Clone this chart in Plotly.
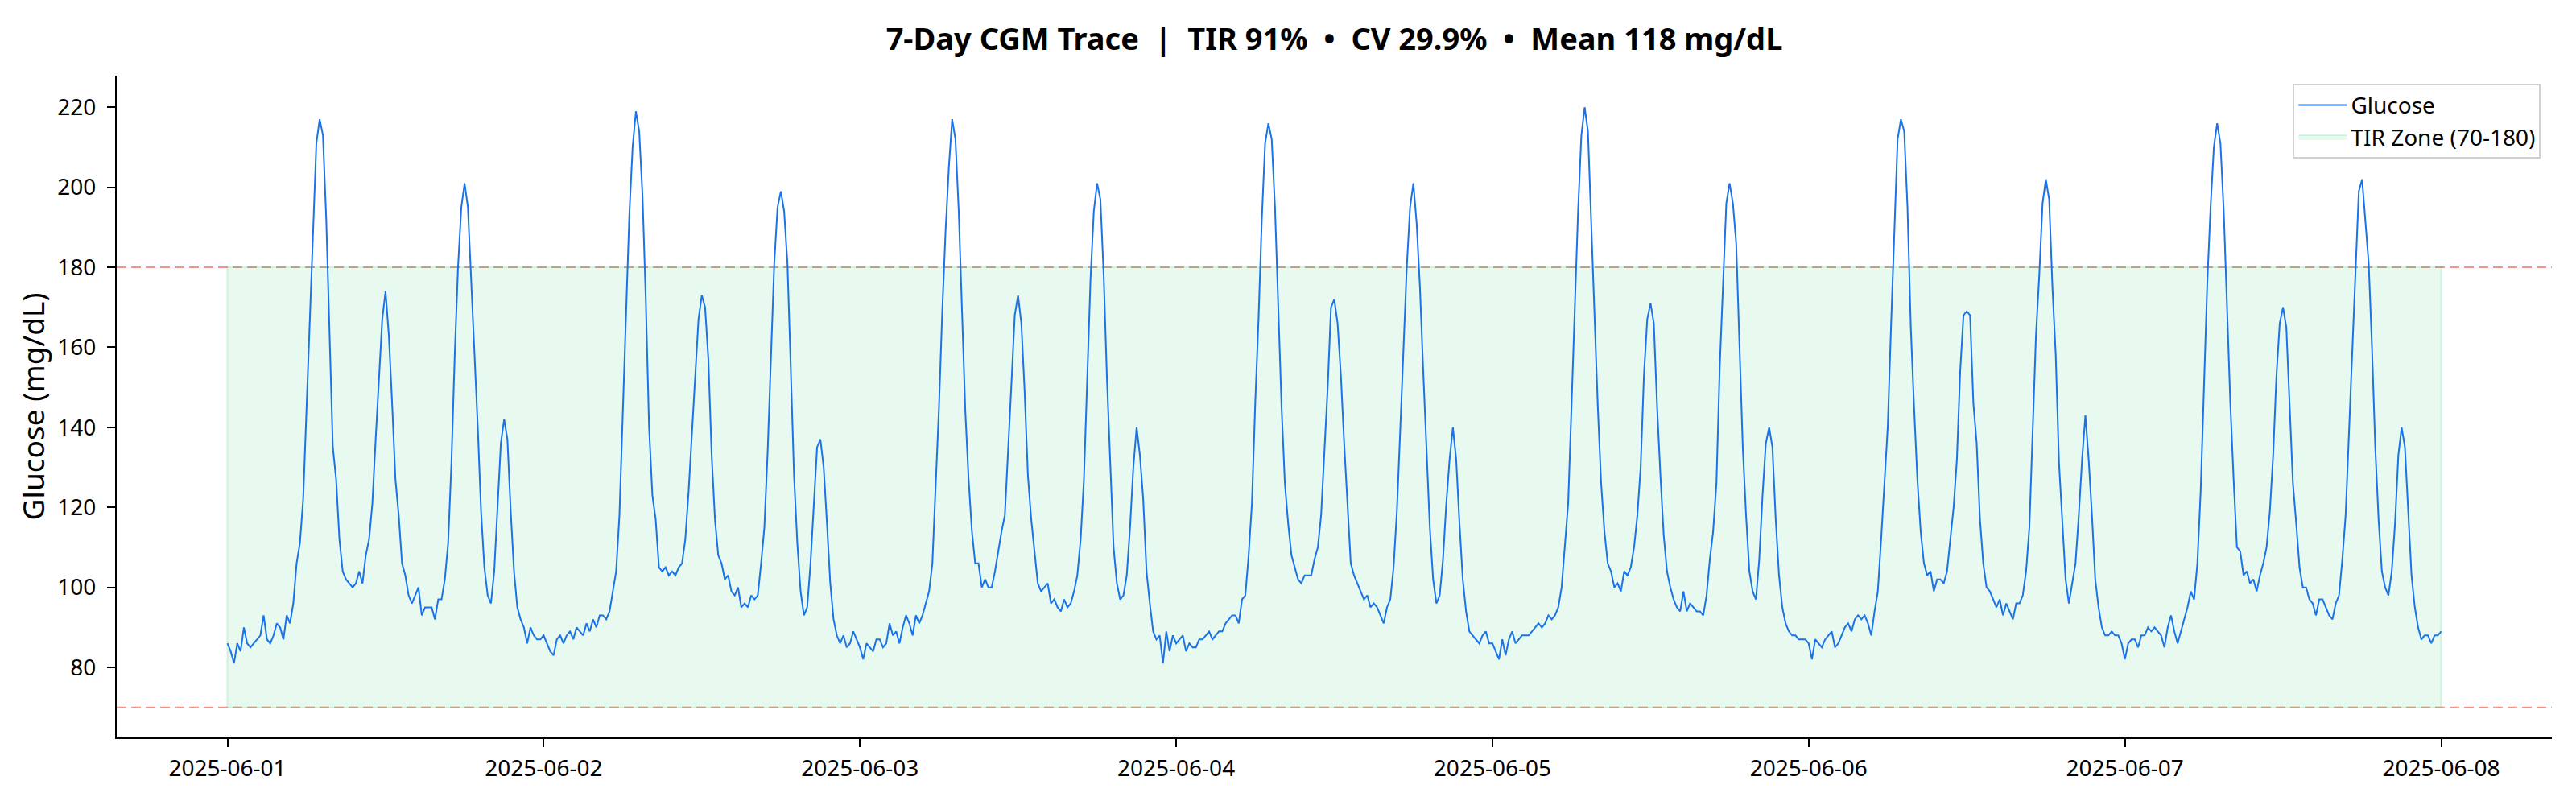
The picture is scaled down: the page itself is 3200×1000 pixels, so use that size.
import pandas as pd
import plotly.graph_objects as go

# ---------------- data (15-minute steps) ----------------
START = "2025-06-01 00:00"
ZONE_START = "2025-06-01"
ZONE_END = "2025-06-08"
TIR_LOW = 70
TIR_HIGH = 180

day1 = [86, 84, 81, 86, 84, 90, 86, 85, 86, 87, 88, 93, 87, 86, 88, 91, 90, 87, 93, 91, 96, 106, 111, 122,
        144, 167, 190, 211, 217, 213, 192, 165, 135, 127, 112, 104, 102, 101, 100, 101, 104, 101, 108, 112, 121, 137, 151, 167,
        174, 163, 146, 127, 118, 106, 103, 98, 96, 98, 100, 93, 95, 95, 95, 92, 97, 97, 102, 111, 131, 158, 180, 195,
        201, 195, 177, 157, 140, 119, 105, 98, 96, 104, 120, 136, 142, 137, 119, 104, 95, 92, 90, 86, 90, 88, 87, 87]
day2 = [88, 86, 84, 83, 87, 88, 86, 88, 89, 87, 90, 89, 88, 91, 89, 92, 90, 93, 93, 92, 94, 99, 104, 118,
        141, 168, 193, 210, 219, 214, 198, 172, 140, 123, 117, 105, 104, 105, 103, 104, 103, 105, 106, 112, 124, 139, 153, 167,
        173, 170, 157, 133, 117, 108, 106, 102, 103, 99, 98, 100, 95, 96, 95, 98, 97, 98, 106, 115, 134, 159, 181, 195,
        199, 194, 181, 155, 128, 111, 99, 93, 95, 106, 121, 135, 137, 130, 116, 101, 92, 88, 86, 88, 85, 86, 89, 87]
day3 = [85, 82, 86, 85, 84, 87, 87, 85, 86, 91, 88, 89, 86, 90, 93, 91, 88, 93, 91, 93, 96, 99, 106, 124,
        145, 169, 189, 205, 217, 212, 194, 169, 144, 127, 114, 106, 106, 100, 102, 100, 100, 104, 109, 114, 118, 136, 151, 168,
        173, 166, 149, 128, 117, 109, 101, 99, 100, 101, 96, 97, 95, 94, 97, 95, 96, 99, 103, 112, 127, 150, 177, 194,
        201, 197, 178, 152, 130, 110, 101, 97, 98, 103, 115, 130, 140, 133, 122, 104, 96, 89, 87, 88, 81, 89, 84, 88]
day4 = [86, 87, 88, 84, 86, 85, 85, 87, 87, 88, 89, 87, 88, 89, 89, 91, 92, 93, 93, 91, 97, 98, 108, 121,
        146, 167, 192, 211, 216, 212, 195, 170, 145, 126, 116, 108, 105, 102, 101, 103, 103, 103, 107, 110, 118, 133, 150, 170,
        172, 166, 153, 136, 120, 106, 103, 101, 99, 97, 98, 95, 96, 95, 93, 91, 95, 97, 105, 119, 139, 159, 180, 195,
        201, 191, 175, 154, 135, 115, 102, 96, 98, 107, 121, 132, 140, 132, 116, 102, 94, 89, 88, 87, 86, 88, 89, 86]
day5 = [86, 84, 82, 87, 83, 87, 89, 86, 87, 88, 88, 88, 89, 90, 91, 90, 91, 93, 92, 93, 95, 100, 110, 121,
        145, 170, 194, 213, 220, 214, 190, 170, 145, 126, 114, 106, 104, 100, 101, 99, 104, 103, 105, 110, 118, 130, 153, 167,
        171, 166, 145, 128, 113, 104, 100, 97, 95, 94, 99, 94, 96, 95, 94, 94, 93, 98, 107, 114, 126, 155, 177, 196,
        201, 196, 186, 160, 135, 118, 104, 99, 97, 107, 123, 136, 140, 135, 117, 103, 95, 91, 89, 88, 88, 87, 87, 87]
day6 = [86, 82, 87, 86, 85, 87, 88, 89, 85, 86, 88, 90, 91, 89, 92, 93, 92, 93, 91, 88, 94, 99, 112, 125,
        140, 165, 187, 212, 217, 214, 195, 165, 145, 127, 114, 106, 103, 104, 99, 102, 102, 101, 104, 112, 120, 132, 154, 168,
        169, 168, 146, 136, 117, 106, 100, 99, 97, 95, 97, 93, 96, 94, 92, 96, 96, 98, 104, 115, 138, 163, 178, 196,
        202, 197, 175, 158, 131, 117, 102, 96, 101, 106, 118, 132, 143, 132, 118, 102, 95, 90, 88, 88, 89, 88, 88, 86]
day7 = [82, 86, 87, 87, 85, 88, 88, 90, 89, 90, 89, 88, 85, 90, 93, 89, 86, 89, 92, 95, 99, 97, 106, 124,
        150, 176, 195, 210, 216, 211, 194, 170, 146, 127, 110, 109, 103, 104, 101, 102, 99, 103, 106, 110, 119, 133, 153, 166,
        170, 165, 146, 126, 116, 105, 100, 100, 97, 96, 93, 97, 97, 95, 93, 92, 96, 98, 107, 118, 138, 158, 180, 199,
        202, 192, 181, 160, 135, 117, 104, 100, 98, 104, 116, 133, 140, 135, 118, 103, 95, 90, 87, 88, 88, 86, 88, 88,
        89]

glucose = day1 + day2 + day3 + day4 + day5 + day6 + day7
times = pd.date_range(START, periods=len(glucose), freq="15min")

x_ticks = pd.date_range("2025-06-01", "2025-06-08", freq="D")
x_tick_text = [d.strftime("%Y-%m-%d") for d in x_ticks]
y_ticks = [80, 100, 120, 140, 160, 180, 200, 220]

TITLE = "7-Day CGM Trace  |  TIR 91%  •  CV 29.9%  •  Mean 118 mg/dL"

# ---------------- figure ----------------
FONT = "Noto Sans, Open Sans, DejaVu Sans, sans-serif"
fig = go.Figure()

fig.add_trace(go.Scatter(
    x=[ZONE_START, ZONE_END, ZONE_END, ZONE_START, ZONE_START],
    y=[TIR_LOW, TIR_LOW, TIR_HIGH, TIR_HIGH, TIR_LOW],
    fill="toself", fillcolor="rgba(46,204,113,0.11)",
    line=dict(color="rgba(46,204,113,0.18)", width=2),
    mode="lines", name="TIR Zone (70-180)", hoverinfo="skip",
))

fig.add_trace(go.Scatter(
    x=times, y=glucose, mode="lines", name="Glucose",
    line=dict(color="#1a73e8", width=2),
))

for lvl in (TIR_LOW, TIR_HIGH):
    fig.add_shape(type="line", xref="paper", x0=0, x1=1, yref="y", y0=lvl, y1=lvl,
                  line=dict(color="rgba(231,76,60,0.6)", width=2, dash="12px,6px"),
                  layer="below")

t0 = pd.Timestamp("2025-06-01") - pd.Timedelta(hours=8.4)
t1 = pd.Timestamp("2025-06-08") + pd.Timedelta(hours=8.4)

fig.update_layout(
    width=3200, height=1000,
    margin=dict(l=145, r=30, t=94, b=84),
    paper_bgcolor="white", plot_bgcolor="white",
    font=dict(family=FONT, size=28, color="black"),
    title=dict(text=TITLE, x=0.5, xref="paper", xanchor="center",
               y=1 - 49 / 1000, yref="container", yanchor="middle",
               font=dict(family=FONT, size=38, color="black", weight="bold")),
    legend=dict(x=0.9955, y=0.988, xanchor="right", yanchor="top",
                bgcolor="rgba(255,255,255,0.85)", bordercolor="#d0d0d0", borderwidth=2,
                font=dict(family=FONT, size=28, color="black"),
                traceorder="reversed", itemwidth=60),
    showlegend=True,
)

fig.update_xaxes(
    range=[t0, t1], tickvals=x_ticks, ticktext=x_tick_text,
    showline=True, linecolor="black", linewidth=2, mirror=False,
    ticks="outside", ticklen=10, tickwidth=2, tickcolor="black",
    showgrid=False, zeroline=False, tickfont=dict(size=28),
    ticklabelstandoff=2,
)
fig.update_yaxes(
    range=[62.5, 227.9], tickvals=y_ticks,
    showline=True, linecolor="black", linewidth=2, mirror=False,
    ticks="outside", ticklen=10, tickwidth=2, tickcolor="black",
    showgrid=False, zeroline=False, tickfont=dict(size=28),
    ticklabelstandoff=8,
    title=dict(text="Glucose (mg/dL)", font=dict(size=37), standoff=4),
)

fig.write_html("out.html")
